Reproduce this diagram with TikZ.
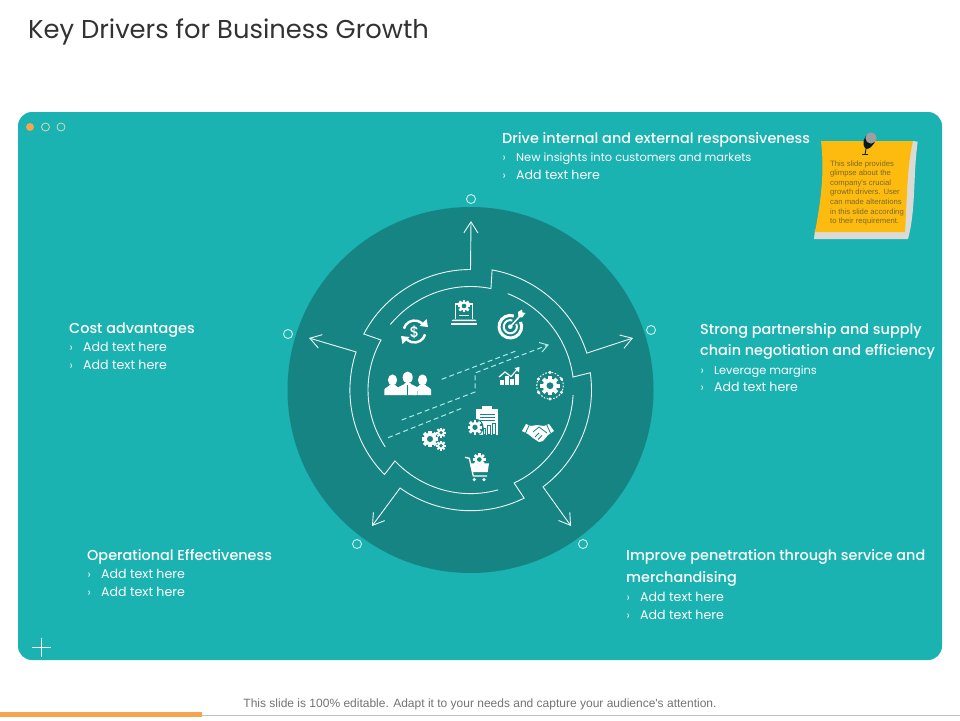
\documentclass[tikz,border=0pt]{standalone}
\usepackage{fontspec}
\setmainfont{Poppins}
\newfontfamily\medf{Poppins Medium}
\newfontfamily\arialf{Liberation Sans}
\usetikzlibrary{calc,arrows.meta}
\definecolor{panel}{RGB}{27,178,178}
\definecolor{disc}{RGB}{23,132,132}
\definecolor{ring}{RGB}{205,240,236}
\definecolor{dashc}{RGB}{170,236,232}
\definecolor{orangeb}{RGB}{245,165,78}
\definecolor{notey}{RGB}{253,187,16}
\definecolor{noteg}{RGB}{218,218,214}
\definecolor{notet}{RGB}{125,105,40}
\tikzset{
 flow/.style={draw=white!92!panel,line width=0.9pt,line join=miter},
 tip/.style={{Straight Barb[length=11pt,width=14pt,line width=0.9pt]}-},
 dashline/.style={draw=dashc,line width=1pt,dash pattern=on 5pt off 3.2pt},
 marker/.style={draw=ring,line width=0.9pt,fill=none,circle,minimum size=9pt,inner sep=0pt},
 head/.style={anchor=base west,text=white,inner sep=0pt,font=\medf\fontsize{14.4}{16}\selectfont},
 item/.style={anchor=base west,text=white,inner sep=0pt,font=\fontsize{11.4}{14}\selectfont},
 additem/.style={anchor=base west,text=white,inner sep=0pt,font=\fontsize{12.6}{14}\selectfont},
 notetext/.style={anchor=base west,text=notet,inner sep=0pt,font=\arialf\fontsize{7.7}{9}\selectfont},
 cutline/.style={draw=disc,line width=0.8pt},
}
\newcommand\gearicon[4]{%
 \foreach \gangle in {0,45,90,135}{\fill[white,shift={(#1,#2)},rotate=\gangle] ({-0.2*#3},{-#3}) rectangle ({0.2*#3},{#3});}
 \fill[white] (#1,#2) circle[radius={0.74*#3}];
 \fill[#4] (#1,#2) circle[radius={0.36*#3}];}
\newcommand\personicon[5]{% x, head y, head r, half width, top
 \fill[white] (#1,#2) ellipse[x radius=#3,y radius={#3*1.2}];
 \fill[white] ({#1-#4},395) -- ({#1-#4},{#5+5}) .. controls ({#1-#4+1},{#5+3}) and ({#1-3},{#5+2}) .. ({#1-2.5},#5) -- ({#1+2.5},#5) .. controls ({#1+3},{#5+2}) and ({#1+#4-1},{#5+3}) .. ({#1+#4},{#5+5}) -- ({#1+#4},395) -- cycle;}
\begin{document}
\begin{tikzpicture}[x=1pt,y=-1pt]
\useasboundingbox (0,0) rectangle (960,720);
% title
\node[anchor=base west,inner sep=0pt,text={rgb,255:red,50;green,50;blue,50},font=\fontsize{25.8}{28}\selectfont] (title) at (28,38.5) {Key Drivers for Business Growth};
% panel
\fill[panel,rounded corners=14pt] (18,112) rectangle (942,660);
\coordinate (c) at (470.5,390);
\fill[disc] (c) circle[radius=183];
% window dots
\fill[orangeb] (30,127) circle[radius=4];
\draw[draw=ring!70!orangeb,line width=0.8pt] (45.5,127) circle[radius=4];
\draw[draw=ring!70!orangeb,line width=0.8pt] (61,127) circle[radius=4];
% plus
\draw[white,line width=0.6pt] (31.5,647) -- (51,647) (41,637.5) -- (41,657);
% markers
\node[marker] (m1) at (471,199) {};
\node[marker] (m2) at (288,334) {};
\node[marker] (m3) at (651,330) {};
\node[marker] (m4) at (357,544) {};
\node[marker] (m5) at (583,544) {};
% arrow tips
\coordinate (t1) at (471,221);
\coordinate (t2) at (309,338);
\coordinate (t3) at (372,526);
\coordinate (t4) at (571,526);
\coordinate (t5) at (633,338);
% five arrows
\draw[flow,tip] (t1) -- ($(c)+(-90:120.5)$) arc[start angle=-90,end angle=-152.3,radius=120.5] -- ($(c)+(-150.8:102.5)$) arc[start angle=-150.8,end angle=-213.7,radius=102.5];
\draw[flow,tip] (t2) -- ($(c)+(198.4:120.6)$) arc[start angle=198.4,end angle=135.5,radius=120.6] -- ($(c)+(136.8:103.6)$) arc[start angle=136.8,end angle=74.6,radius=103.6];
\draw[flow,tip] (t3) -- ($(c)+(125.7:120.7)$) arc[start angle=125.7,end angle=63.6,radius=120.7] -- ($(c)+(64.9:102.7)$) arc[start angle=64.9,end angle=2.8,radius=102.7];
\draw[flow,tip] (t4) -- ($(c)+(53.2:121)$) arc[start angle=53.2,end angle=-8.2,radius=121] -- ($(c)+(-7.2:103.3)$) arc[start angle=-7.2,end angle=-68.9,radius=103.3];
\draw[flow,tip] (t5) -- ($(c)+(-17.6:122)$) arc[start angle=-17.6,end angle=-79.8,radius=122] -- ($(c)+(-78.6:103.5)$) arc[start angle=-78.6,end angle=-140.7,radius=103.5];
% dashed arrows
\coordinate (d1) at (441.7,379.3);
\coordinate (d2) at (516.7,350.7);
\coordinate (d3) at (401.7,420);
\coordinate (d4) at (475,392);
\coordinate (d5) at (475,373);
\coordinate (d6) at (548,345);
\coordinate (d7) at (388,437.7);
\coordinate (d8) at (461.7,408.3);
\draw[dashline] (d1) -- (d2);
\draw[dashline] (d3) -- (d4) -- (d5) -- (d6);
\draw[draw=dashc,line width=1pt] (539,342.5) -- (548,345) -- (542,352);
\draw[dashline] (d7) -- (d8);
% dollar cycle icon
\draw[white,line width=2.4pt] ($(414.5,331.5)+(-165:11)$) arc[start angle=-165,end angle=-45,radius=11];
\draw[white,line width=2.4pt] ($(414.5,331.5)+(15:11)$) arc[start angle=15,end angle=135,radius=11];
\fill[white] (428,327) -- (419.5,326) -- (426.5,319) -- cycle;
\fill[white] (401,336) -- (409.5,337) -- (402.5,344) -- cycle;
\node[text=white,inner sep=0pt,font=\medf\fontsize{15}{15}\selectfont] (dollar) at (414.5,332) {\$};
% laptop gear icon
\draw[white,line width=1.1pt] (455.5,318.5) -- (455.5,304) -- (472.5,304) -- (472.5,318.5);
\gearicon{464}{306}{6.4}{disc}
\draw[white,line width=0.6pt] (459,315) -- (469,315);
\fill[white] (453,319.5) -- (475,319.5) -- (476.5,321) -- (451.5,321) -- cycle;
\fill[white] (451,322.5) rectangle (477,325.2);
% target icon
\draw[white,line width=3pt] ($(510.3,326.7)+(-72:11.3)$) arc[start angle=-72,end angle=-385,radius=11.3];
\draw[white,line width=2pt] ($(510.3,326.7)+(-72:6.6)$) arc[start angle=-72,end angle=-385,radius=6.6];
\fill[white] (510.3,326.7) circle[radius=2.3];
\draw[white,line width=1.5pt] (510.3,326.7) -- (520,316);
\fill[white] (518,312) -- (522,309.5) -- (522.5,312.5) -- (525.5,313) -- (522,317.5) -- (518.5,317) -- cycle;
% people icon
\personicon{392.5}{380}{4.6}{8.2}{384.5}
\personicon{422.5}{380}{4.6}{8.7}{384.5}
\draw[disc,line width=1.4pt] (399,396) -- (399,391) (417,396) -- (417,391);
\personicon{407.7}{377.5}{5}{10}{383}
\draw[disc,line width=1pt] (407.7,385) -- (407.7,395);
% chart icon
\fill[white] (500,379.5) rectangle (503.5,385);
\fill[white] (505,376) rectangle (508.5,385);
\fill[white] (510,379) rectangle (513.5,385);
\fill[white] (515,374) rectangle (518.8,385);
\draw[white,line width=1.2pt] (499,377) -- (505,372) -- (511,376.5) -- (517,369.5);
\fill[white] (514.5,368) -- (519.5,367) -- (519,372.5) -- cycle;
% gear with dots icon
\gearicon{550}{385.7}{9.6}{disc}
\draw[white,line width=1pt,dash pattern=on 1.6pt off 1.6pt] (550,385.7) circle[radius=13.3];
\foreach \dotangle in {-90,-30,30,90,150,210}{\fill[white] ($(550,385.7)+(\dotangle:13.3)$) circle[radius=1.7];}
% clipboard icon
\fill[white] (476,409.3) rectangle (498.3,435);
\fill[white] (481.7,405.7) rectangle (491.7,410);
\draw[cutline] (480,414) -- (495,414) (480,417.3) -- (495,417.3) (480,420.7) -- (495,420.7);
\draw[cutline] (483,434) rectangle (485.5,428) (487.5,434) rectangle (490,425.5) (492,434) rectangle (495,423.5);
\fill[disc] (475,427.3) circle[radius=8.6];
\gearicon{475}{427.3}{7.4}{disc}
% handshake icon
\fill[white] (522,431) -- (526,424) -- (531,426) -- (537,425) -- (544,426) -- (549,424) -- (554,431) -- (548,435) -- (543,441) -- (539,442) -- (533,438) -- (528,434) -- cycle;
\draw[cutline] (529.5,424.5) -- (525.5,433) (546.5,424.5) -- (550.5,433) (533,432) -- (539,427) -- (547,433) (535,437) -- (539,433) (538,439.5) -- (542,435.5);
% three gears icon
\gearicon{430}{439}{8.4}{disc}
\gearicon{441}{432.7}{5}{disc}
\gearicon{441}{445.7}{5}{disc}
% cart icon
\gearicon{479.3}{459.5}{6.4}{disc}
\draw[white,line width=1.3pt] (465,457.3) -- (469.3,458.3) -- (473.3,476) -- (487,476);
\fill[white] (470,463.3) -- (489,463.3) -- (487.7,472) -- (472,472) -- cycle;
\fill[white] (474.3,479.6) circle[radius=1.8];
\fill[white] (484,479.6) circle[radius=1.8];
% sticky note
\fill[noteg] (905,141) -- (913,141) -- (917.7,141.7) .. controls (913,175) and (916,210) .. (908,239) -- (814,239) -- (815,230) -- cycle;
\fill[notey] (821,141) -- (913,141) .. controls (907,165) and (907,200) .. (905,232) -- (815,232) .. controls (820,205) and (825,175) .. (821,141) -- cycle;
\fill[black!80!disc] (866,149) .. controls (861,144) and (864,137) .. (868,134) -- (875,142) .. controls (872,146) and (870,149) .. (866,149) -- cycle;
\draw[black!70!disc,line width=0.9pt] (866,149) -- (865,154) (862,154.5) -- (868,154.5);
\fill[gray!75] (871,138) circle[radius=5.6];
\node[notetext] (n1) at (830,166) {This slide provides};
\node[notetext] (n2) at (830,175.5) {glimpse about the};
\node[notetext] (n3) at (830,185) {company's crucial};
\node[notetext] (n4) at (830,194.7) {growth drivers. User};
\node[notetext] (n5) at (830,204.4) {can made alterations};
\node[notetext] (n6) at (830,214) {in this slide according};
\node[notetext] (n7) at (830,223.5) {to their requirement.};
% text blocks
\node[head] (a0) at (502,143) {Drive internal and external responsiveness};
\node[item] (a1c) at (502.5,161.5) {›};
\node[item] (a1) at (516,161.5) {New insights into customers and markets};
\node[item] (a2c) at (502.5,179.5) {›};
\node[additem] (a2) at (516,179.5) {Add text here};
\node[head] (b0) at (69,333) {Cost advantages};
\node[item] (b1c) at (69.5,351.5) {›};
\node[additem] (b1) at (83,351.5) {Add text here};
\node[item] (b2c) at (69.5,369.5) {›};
\node[additem] (b2) at (83,369.5) {Add text here};
\node[head] (e0) at (700,334) {Strong partnership and supply};
\node[head] (e00) at (700,355.5) {chain negotiation and efficiency};
\node[item] (e1c) at (700.5,374.5) {›};
\node[item] (e1) at (714,374.5) {Leverage margins};
\node[item] (e2c) at (700.5,391.5) {›};
\node[additem] (e2) at (714,391.5) {Add text here};
\node[head] (o0) at (87,560) {Operational Effectiveness};
\node[item] (o1c) at (87.5,578.5) {›};
\node[additem] (o1) at (101,578.5) {Add text here};
\node[item] (o2c) at (87.5,596.5) {›};
\node[additem] (o2) at (101,596.5) {Add text here};
\node[head] (i0) at (626,560) {Improve penetration through service and};
\node[head] (i00) at (626,582) {merchandising};
\node[item] (i1c) at (626.5,601.5) {›};
\node[additem] (i1) at (640,601.5) {Add text here};
\node[item] (i2c) at (626.5,619) {›};
\node[additem] (i2) at (640,619) {Add text here};
% footer
\node[anchor=base,inner sep=0pt,text=black!55,font=\arialf\fontsize{12}{14}\selectfont] (foot) at (480,707) {This slide is 100\% editable. Adapt it to your needs and capture your audience's attention.};
\fill[black!25] (202,714.7) rectangle (960,715.6);
\fill[orangeb] (0,712) rectangle (202,717);
\end{tikzpicture}
\end{document}
